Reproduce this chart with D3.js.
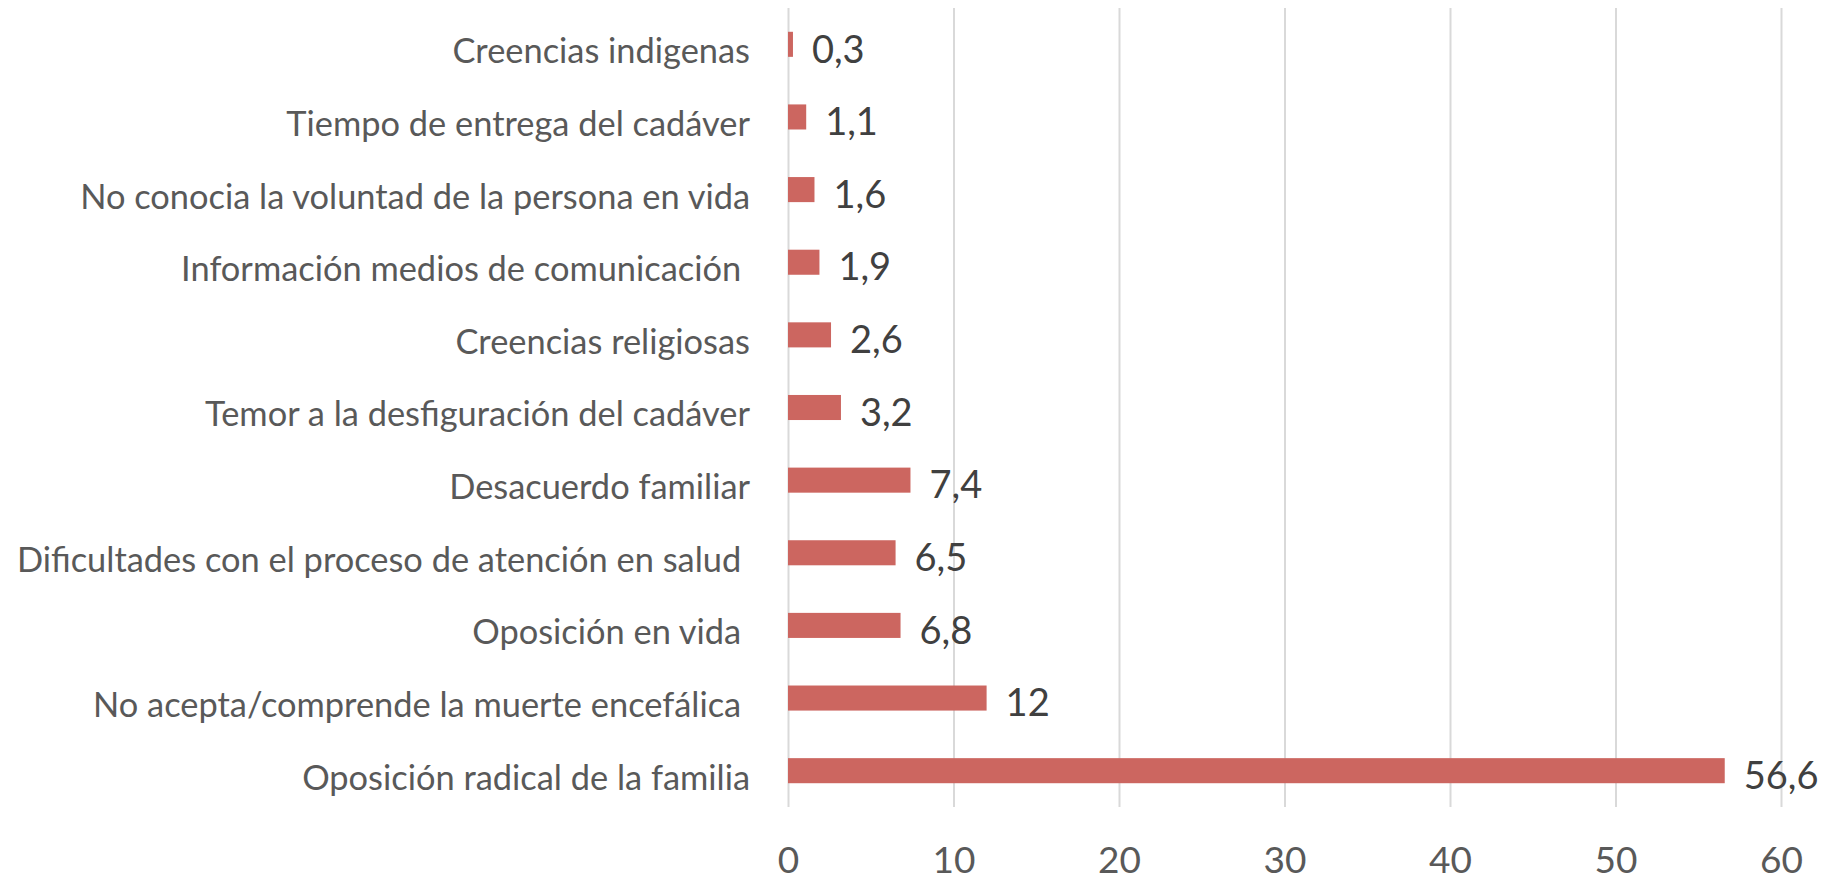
<!DOCTYPE html>
<html>
<head>
<meta charset="utf-8">
<script src="https://cdn.jsdelivr.net/npm/d3@7"></script>
<style>
  body { margin: 0; background: #ffffff; }
  svg { display: block; }
</style>
</head>
<body>
<svg id="chart"></svg>
<script>
// categories from top to bottom, some keep the trailing space of the source sheet
const categories = [
  "Creencias indigenas",
  "Tiempo de entrega del cadáver",
  "No conocia la voluntad de la persona en vida",
  "Información medios de comunicación ",
  "Creencias religiosas",
  "Temor a la desfiguración del cadáver",
  "Desacuerdo familiar",
  "Dificultades con el proceso de atención en salud ",
  "Oposición en vida ",
  "No acepta/comprende la muerte encefálica ",
  "Oposición radical de la familia"
];
const values = [0.3, 1.1, 1.6, 1.9, 2.6, 3.2, 7.4, 6.5, 6.8, 12, 56.6];
const xTicks = [0, 10, 20, 30, 40, 50, 60];

const FONT = 'Lato, "Open Sans", sans-serif';

class HBar {

  constructor(_config) {
    this.config = {
      parentElement: _config.parentElement,
      containerWidth: _config.containerWidth || 1837,
      containerHeight: _config.containerHeight || 882,
      margin: { top: 8, bottom: 75, right: 56, left: 788 }
    }
    this.initVis();
  }

  initVis() {
    let vis = this;

    vis.width = vis.config.containerWidth - vis.config.margin.left - vis.config.margin.right;
    vis.height = vis.config.containerHeight - vis.config.margin.top - vis.config.margin.bottom;

    vis.svg = d3.select(vis.config.parentElement)
        .attr('width', vis.config.containerWidth)
        .attr('height', vis.config.containerHeight)
        .style('font-family', FONT);

    vis.chart = vis.svg.append('g')
        .attr('transform', `translate(${vis.config.margin.left},${vis.config.margin.top})`);

    vis.xScale = d3.scaleLinear()
        .domain([0, 60])
        .range([0, vis.width]);

    vis.yScale = d3.scaleBand()
        .domain(categories)
        .range([0, vis.height])
        .paddingInner(0.655)
        .paddingOuter(0.3275);

    // vertical gridlines + tick labels
    vis.xAxis = d3.axisBottom(vis.xScale)
        .tickValues(xTicks)
        .tickSize(-vis.height)
        .tickPadding(40)
        .tickFormat(d3.format("d"));

    vis.xAxisG = vis.chart.append('g')
        .attr('class', 'axis x-axis')
        .attr('transform', `translate(0,${vis.height})`)
        .call(vis.xAxis)
        .attr('font-family', FONT)
        .attr('font-size', 37);

    vis.xAxisG.select('.domain').remove();
    vis.xAxisG.selectAll('.tick line')
        .attr('stroke', '#d9d9d9')
        .attr('stroke-width', 2);
    vis.xAxisG.selectAll('.tick text')
        .attr('fill', '#595959');

    // category labels
    vis.yAxis = d3.axisLeft(vis.yScale).tickSize(0).tickPadding(38);
    vis.yAxisG = vis.chart.append('g')
        .attr('class', 'axis y-axis')
        .call(vis.yAxis)
        .attr('font-family', FONT)
        .attr('font-size', 34.4);
    vis.yAxisG.select('.domain').remove();
    vis.yAxisG.selectAll('.tick text')
        .attr('fill', '#595959')
        .attr('dy', '0.55em')
        .attr('xml:space', 'preserve')
        .style('white-space', 'pre');

    vis.chart.selectAll('.bar')
        .data(values)
      .join('rect')
        .attr('class', 'bar')
        .attr('x', vis.xScale(0))
        .attr('y', (d, i) => vis.yScale(categories[i]))
        .attr('width', d => vis.xScale(d) - vis.xScale(0))
        .attr('height', vis.yScale.bandwidth())
        .attr('fill', '#cc6660');

    vis.chart.selectAll('.label')
        .data(values)
      .join('text')
        .attr('class', 'label')
        .attr('x', d => vis.xScale(d) + 19)
        .attr('y', (d, i) => vis.yScale(categories[i]) + vis.yScale.bandwidth() / 2)
        .attr('dy', '0.48em')
        .attr('fill', '#404040')
        .style('font-size', '38px')
        .text(d => d3.format(".1~f")(d).replace('.', ','));
  }
}

new HBar({ parentElement: '#chart' });
</script>
</body>
</html>
